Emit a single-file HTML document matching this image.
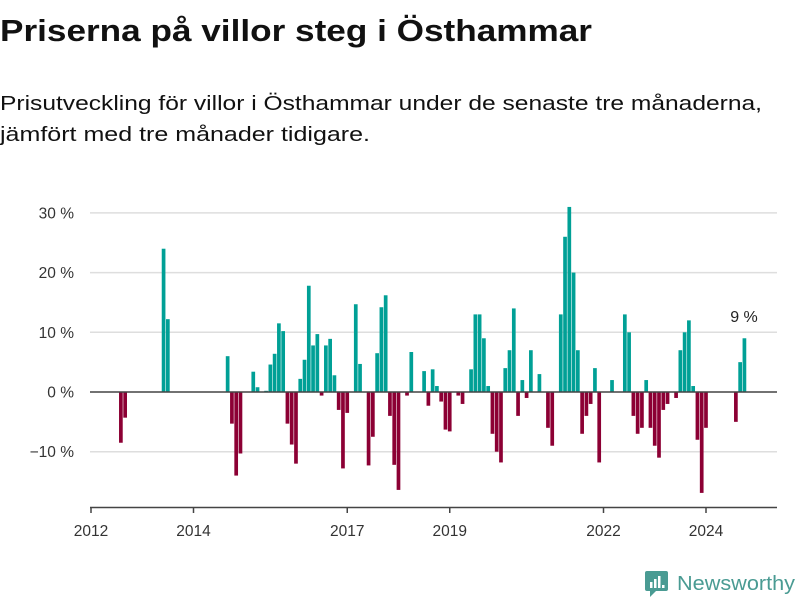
<!DOCTYPE html>
<html><head><meta charset="utf-8"><style>
html,body{margin:0;padding:0;background:#fff;}
svg{display:block;font-family:"Liberation Sans","DejaVu Sans",sans-serif;}
</style></head><body>
<svg id="chart" width="800" height="600" viewBox="0 0 800 600">
<text x="0" y="41" font-size="31" font-weight="bold" fill="#111" textLength="592" lengthAdjust="spacingAndGlyphs">Priserna på villor steg i Östhammar</text>
<text x="0" y="110" font-size="20.5" fill="#111" textLength="762" lengthAdjust="spacingAndGlyphs">Prisutveckling för villor i Östhammar under de senaste tre månaderna,</text>
<text x="0" y="141" font-size="20.5" fill="#111" textLength="370" lengthAdjust="spacingAndGlyphs">jämfört med tre månader tidigare.</text>
<g id="grid"></g>
<g id="bars"></g>
<g id="axes"></g>
<text x="744" y="322" font-size="16" fill="#222" text-anchor="middle">9 %</text>
<g>
<rect x="645" y="571" width="23" height="20" rx="2" fill="#4a9b93"/>
<polygon points="650,591 656,591 650,597" fill="#4a9b93"/>
<rect x="650" y="582" width="2.5" height="6" fill="#fff"/><rect x="654" y="579" width="2.5" height="9" fill="#fff"/><rect x="658" y="576" width="2.5" height="12" fill="#fff"/><rect x="662" y="585" width="2.5" height="3" fill="#fff"/>
<text x="677" y="590" font-size="20" fill="#4a9b93" textLength="118" lengthAdjust="spacingAndGlyphs">Newsworthy</text>
</g>
</svg>
<script>
const yTickValues = [-10, 0, 10, 20, 30];
const yTickLabels = ["−10 %", "0 %", "10 %", "20 %", "30 %"];
const xTickMonths = [0, 24, 60, 84, 120, 144];
const xTickLabels = ["2012", "2014", "2017", "2019", "2022", "2024"];
const barMonths = [6,7,16,17,31,32,33,34,37,38,40,41,42,43,44,45,46,47,48,49,50,51,52,53,54,55,56,57,58,59,61,62,64,65,66,67,68,69,70,71,73,74,77,78,79,80,81,82,83,85,86,88,89,90,91,92,93,94,95,96,97,98,99,100,101,102,104,106,107,109,110,111,112,113,114,115,116,117,118,121,124,125,126,127,128,129,130,131,132,133,134,136,137,138,139,140,141,142,143,150,151,152];
const barValues = [-8.5,-4.3,24,12.2,6,-5.3,-14,-10.3,3.4,0.8,0.2,4.6,6.4,11.5,10.2,-5.3,-8.8,-12,2.2,5.4,17.8,7.8,9.7,-0.6,7.8,8.9,2.8,-3,-12.8,-3.5,14.7,4.7,-12.3,-7.5,6.5,14.2,16.2,-4,-12.2,-16.4,-0.6,6.7,3.5,-2.3,3.8,1,-1.6,-6.3,-6.6,-0.6,-2,3.8,13,13,9,1,-7,-10,-11.8,4,7,14,-4,2,-1,7,3,-6,-9,13,26,31,20,7,-7,-4,-2,4,-11.8,2,13,10,-4,-7,-6,2,-6,-9,-11,-3,-2,-1,7,10,12,1,-8,-16.9,-6,-5,5,9];

const NS = "http://www.w3.org/2000/svg";
const monthW = 102.5 / 24;
const xScale = m => 91 + m * monthW;
const yScale = v => 392 - v * 5.97;
function mk(tag, attrs, parent) {
  const el = document.createElementNS(NS, tag);
  for (const k in attrs) el.setAttribute(k, attrs[k]);
  parent.appendChild(el);
  return el;
}
const grid = document.getElementById('grid');
const bars = document.getElementById('bars');
const axes = document.getElementById('axes');
yTickValues.forEach((v, i) => {
  if (v !== 0) {
    const l = mk('line', {x1: 90, x2: 777, y1: yScale(v), y2: yScale(v), stroke: '#dedede', 'stroke-width': 1.5}, grid);
    
    
  }
  const t = mk('text', {x: 74, y: yScale(v) + 5.5, 'font-size': 15.5, fill: '#333', 'text-anchor': 'end'}, axes);
  t.textContent = yTickLabels[i];
  
  
});
barMonths.forEach((m, i) => {
  const v = barValues[i];
  const y0 = yScale(0), y1 = yScale(v);
  const r = mk('rect', {x: xScale(m) + 2.4, y: Math.min(y0, y1), width: 3.7, height: Math.abs(y1 - y0), fill: v >= 0 ? '#00a096' : '#8c0034'}, bars);
  
  
});
const zl = mk('line', {x1: 90, x2: 777, y1: yScale(0), y2: yScale(0), stroke: '#444', 'stroke-width': 1.5}, axes);


const xa = mk('line', {x1: 90, x2: 777, y1: 507.5, y2: 507.5, stroke: '#444', 'stroke-width': 1.5}, axes);


xTickMonths.forEach((m, i) => {
  const tk = mk('line', {x1: xScale(m), x2: xScale(m), y1: 507, y2: 513, stroke: '#444', 'stroke-width': 1.5}, axes);
  
  
  const t = mk('text', {x: xScale(m), y: 536, 'font-size': 15.5, fill: '#333', 'text-anchor': 'middle'}, axes);
  t.textContent = xTickLabels[i];
  
  
});
</script>
</body></html>
